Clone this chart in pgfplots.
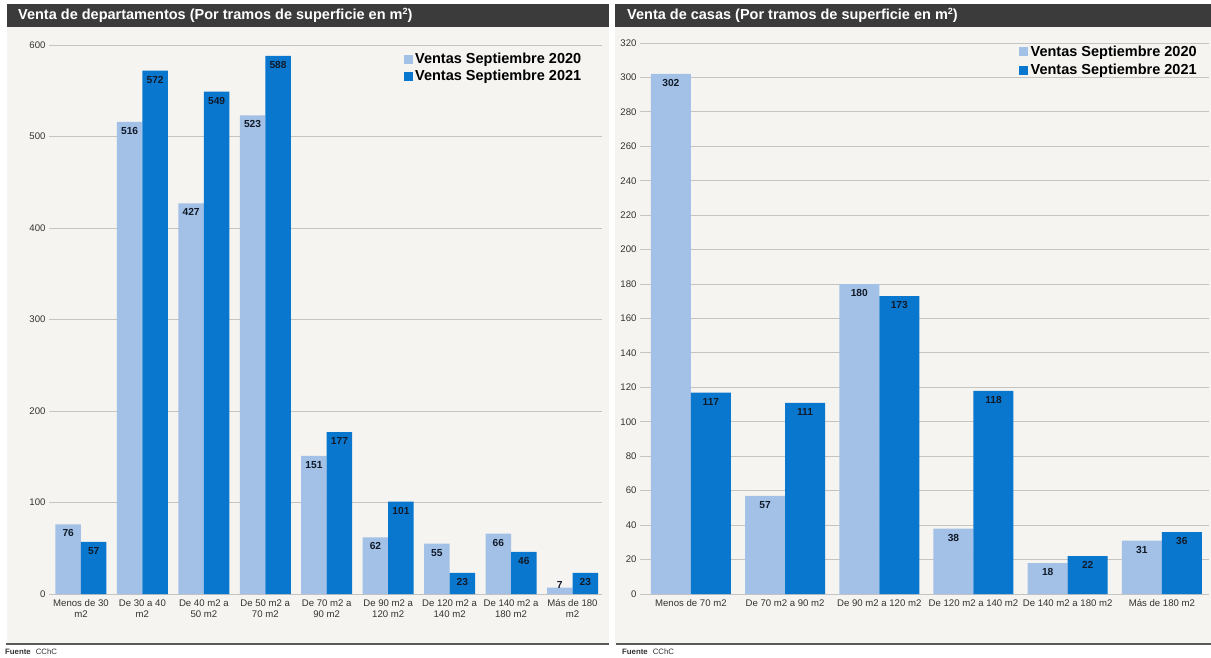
\documentclass[border=0pt]{standalone}
\usepackage{pgfplots}
\pgfplotsset{compat=1.18}
\usepackage{pgfplotstable}
\usepackage{fontspec}
\setmainfont{Liberation Sans}

\definecolor{titlebar}{HTML}{3B3B3B}
\definecolor{panelbg}{HTML}{F5F4F0}
\definecolor{sepA}{HTML}{A3C1E6}
\definecolor{sepB}{HTML}{0A77CF}
\definecolor{gridgray}{HTML}{C4C4C2}
\definecolor{ticktext}{HTML}{333333}
\definecolor{valtext}{HTML}{111A28}
\definecolor{footline}{HTML}{5A5A5A}

% Venta de departamentos por tramo de superficie
\pgfplotstableread{
x  s2020 s2021
0  76    57
1  516   572
2  427   549
3  523   588
4  151   177
5  62    101
6  55    23
7  66    46
8  7     23
}\deptos

% Venta de casas por tramo de superficie
\pgfplotstableread{
x  s2020 s2021
0  302   117
1  57    111
2  180   173
3  38    118
4  18    22
5  31    36
}\casas

\newcommand{\sqm}{m\raisebox{4.5pt}{\fontsize{9}{9}\selectfont 2}}

\pgfplotsset{
  panel/.style={
    scale only axis,
    anchor=south west,
    ybar=0pt,
    ymin=0,
    xtick=data,
    major tick length=0pt,
    axis line style={draw=none},
    ymajorgrids,
    grid style={gridgray, line width=0.9pt},
    tick label style={font=\fontsize{9.6}{11.2}\selectfont, text=ticktext},
    xticklabel style={align=center, yshift=-2pt},
    /pgf/number format/assume math mode=true,
    clip=false,
    nodes near coords,
    visualization depends on={y \as \rawy},
    every node near coord/.append style={
      font=\bfseries\fontsize{10.2}{12}\selectfont, text=valtext,
      anchor=center, yshift={ifthenelse(\rawy<10,3,-9)*1pt}},
    legend cell align=left,
    legend style={draw=none, fill=none, anchor=north west,
      font=\bfseries\fontsize{14.5}{16}\selectfont,
      inner sep=0pt, row sep=3pt, nodes={inner sep=1pt},
      /tikz/every odd column/.style={column sep=1.5pt}},
    legend image code/.code={\fill[##1] (0pt,-4.5pt) rectangle (9pt,4.5pt);},
  },
}

\begin{document}
\begin{tikzpicture}
\useasboundingbox (0pt,0pt) rectangle (1211pt,657pt);
\fill[white] (0pt,0pt) rectangle (1211pt,657pt);

% panel backgrounds, title bars and footer rules
\fill[panelbg] (7pt,13pt) rectangle (609pt,630pt);
\fill[titlebar] (7pt,630pt) rectangle (609pt,653pt);
\fill[panelbg] (615pt,13pt) rectangle (1211pt,630pt);
\fill[titlebar] (615pt,630pt) rectangle (1211pt,653pt);
\draw[footline, line width=1.6pt] (6pt,13pt) -- (609pt,13pt);
\draw[footline, line width=1.6pt] (616pt,13pt) -- (1211pt,13pt);

\node[anchor=west, text=white, font=\bfseries\fontsize{14.5}{16}\selectfont, inner sep=0pt]
  at (18pt,641.5pt) {Venta de departamentos (Por tramos de superficie en \sqm)};
\node[anchor=west, text=white, font=\bfseries\fontsize{14.5}{16}\selectfont, inner sep=0pt]
  at (627pt,641.5pt) {Venta de casas (Por tramos de superficie en \sqm)};

\node[anchor=west, inner sep=0pt, font=\fontsize{7.8}{9}\selectfont, text=ticktext]
  at (5pt,5pt) {\textbf{Fuente}\hspace{5pt}CChC};
\node[anchor=west, inner sep=0pt, font=\fontsize{7.8}{9}\selectfont, text=ticktext]
  at (622pt,5pt) {\textbf{Fuente}\hspace{5pt}CChC};

% departamentos
\begin{axis}[panel,
  at={(49pt,63pt)}, width=553pt, height=549pt,
  xmin=-0.52, xmax=8.48, ymax=600,
  ytick={0,100,...,600},
  bar width=25.5pt,
  xticklabels={{Menos de 30\\m2},{De 30 a 40\\m2},{De 40 m2 a\\50 m2},{De 50 m2 a\\70 m2},
    {De 70 m2 a\\90 m2},{De 90 m2 a\\120 m2},{De 120 m2 a\\140 m2},{De 140 m2 a\\180 m2},
    {Más de 180\\m2}},
  legend style={at={(0.641,0.987)}},
]
\addplot[fill=sepA, draw=none] table[x=x, y=s2020] {\deptos};
\addplot[fill=sepB, draw=none] table[x=x, y=s2021] {\deptos};
\legend{Ventas Septiembre 2020, Ventas Septiembre 2021}
\end{axis}

% casas
\begin{axis}[panel,
  at={(640pt,63pt)}, width=569pt, height=551pt,
  xmin=-0.54, xmax=5.5, ymax=320,
  ytick={0,20,...,320},
  bar width=40pt,
  xticklabels={Menos de 70 m2, De 70 m2 a 90 m2, De 90 m2 a 120 m2,
    De 120 m2 a 140 m2, De 140 m2 a 180 m2, Más de 180 m2},
  legend style={at={(0.666,0.997)}, row sep=4.5pt},
]
\addplot[fill=sepA, draw=none] table[x=x, y=s2020] {\casas};
\addplot[fill=sepB, draw=none] table[x=x, y=s2021] {\casas};
\legend{Ventas Septiembre 2020, Ventas Septiembre 2021}
\end{axis}
\end{tikzpicture}
\end{document}
